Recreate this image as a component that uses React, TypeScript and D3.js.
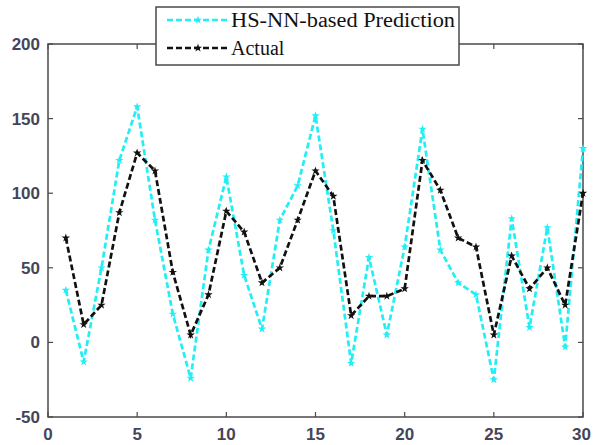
import React, { useRef, useEffect } from 'react';
import * as d3 from 'd3';

const xs = d3.range(1, 31);
const predicted = [35, -13, 50, 122, 158, 82, 19, -24, 62, 111, 45, 9, 82, 105, 152, 75, -14, 57, 5, 64, 143, 62, 40, 32, -25, 83, 10, 77, -3, 130];
const actual = [70, 12, 25, 87, 127, 115, 47, 5, 32, 88, 74, 40, 50, 82, 115, 98, 18, 31, 31, 36, 122, 102, 70, 64, 5, 58, 36, 50, 25, 100];
const xTicks = [0, 5, 10, 15, 20, 25, 30];
const yTicks = [-50, 0, 50, 100, 150, 200];
const seriesNames = ['HS-NN-based Prediction', 'Actual'];
const seriesColors = ['#22eef6', '#111111'];

const App = () => {
    const ref = useRef(null);

    useEffect(() => {
        const root = d3.select(ref.current);
        root.selectAll('*').remove();

        const svg = root.append('svg')
            .attr('width', 593)
            .attr('height', 445)
            .style('display', 'block')
            .style('background', '#fff');

        const left = 48, right = 583, top = 44, bottom = 417;
        const x = d3.scaleLinear().domain([0, 30]).range([left, right]);
        const y = d3.scaleLinear().domain([-50, 200]).range([bottom, top]);
        const axisColor = '#4a4a4a';

        // box
        svg.append('rect')
            .attr('x', left).attr('y', top)
            .attr('width', right - left).attr('height', bottom - top)
            .attr('fill', 'none').attr('stroke', axisColor).attr('stroke-width', 1.5);

        // ticks (inward) on all four sides
        const tickG = svg.append('g').attr('stroke', axisColor).attr('stroke-width', 1.2);
        xTicks.forEach(t => {
            tickG.append('line').attr('x1', x(t)).attr('x2', x(t)).attr('y1', bottom).attr('y2', bottom - 5);
            tickG.append('line').attr('x1', x(t)).attr('x2', x(t)).attr('y1', top).attr('y2', top + 5);
        });
        yTicks.forEach(t => {
            tickG.append('line').attr('x1', left).attr('x2', left + 5).attr('y1', y(t)).attr('y2', y(t));
            tickG.append('line').attr('x1', right).attr('x2', right - 5).attr('y1', y(t)).attr('y2', y(t));
        });

        const labelStyle = (sel) => sel
            .attr('font-family', 'Arial, Liberation Sans, sans-serif')
            .attr('font-size', 17)
            .attr('font-weight', 'bold')
            .attr('fill', '#45455a');

        svg.append('g').selectAll('text').data(xTicks).join('text')
            .attr('x', d => (d === 30 ? 591 : x(d)))
            .attr('y', 440)
            .attr('text-anchor', d => (d === 30 ? 'end' : 'middle'))
            .call(labelStyle)
            .text(d => d);

        svg.append('g').selectAll('text').data(yTicks).join('text')
            .attr('x', 40).attr('y', d => y(d) + 6)
            .attr('text-anchor', 'end')
            .call(labelStyle)
            .text(d => d);

        const line = d3.line().x((d, i) => x(xs[i])).y(d => y(d));
        const star = d3.symbol().type(d3.symbolStar).size(22);

        [predicted, actual].forEach((vals, k) => {
            svg.append('path')
                .datum(vals)
                .attr('fill', 'none')
                .attr('stroke', seriesColors[k])
                .attr('stroke-width', 2.7)
                .attr('stroke-dasharray', '6,3')
                .attr('d', line);
            svg.append('g').selectAll('path').data(vals).join('path')
                .attr('transform', (d, i) => `translate(${x(xs[i])},${y(d)})`)
                .attr('d', star)
                .attr('fill', seriesColors[k]);
        });

        // legend
        const lg = svg.append('g');
        lg.append('rect')
            .attr('x', 156).attr('y', 7)
            .attr('width', 303).attr('height', 58)
            .attr('fill', '#fff').attr('stroke', axisColor).attr('stroke-width', 1.5);
        seriesNames.forEach((name, k) => {
            const ly = 20 + k * 28;
            lg.append('line')
                .attr('x1', 167).attr('x2', 229).attr('y1', ly).attr('y2', ly)
                .attr('stroke', seriesColors[k]).attr('stroke-width', 2.7)
                .attr('stroke-dasharray', '6,3');
            lg.append('path')
                .attr('transform', `translate(198,${ly})`)
                .attr('d', star)
                .attr('fill', seriesColors[k]);
            const t = lg.append('text')
                .attr('x', 231).attr('y', ly + 7)
                .attr('font-family', 'Liberation Serif, Times New Roman, serif')
                .attr('font-size', 20)
                .attr('fill', '#111')
                .text(name);
            if (k === 0) t.attr('textLength', 224).attr('lengthAdjust', 'spacingAndGlyphs');
        });
    }, []);

    return <div ref={ref} style={{ position: 'absolute', left: 0, top: 0, width: 593, height: 445 }}></div>;
};

export default App;
